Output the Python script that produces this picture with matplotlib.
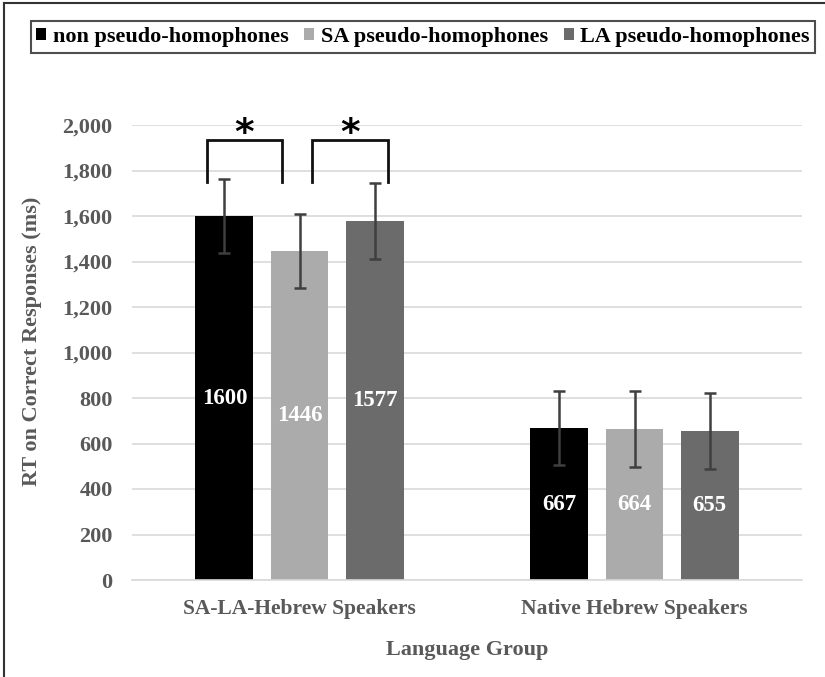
import matplotlib
matplotlib.use("Agg")
import matplotlib.pyplot as plt
import numpy as np
from matplotlib.patches import Patch
from matplotlib.lines import Line2D

groups = ["SA-LA-Hebrew Speakers", "Native Hebrew Speakers"]
series = ["non pseudo-homophones", "SA pseudo-homophones", "LA pseudo-homophones"]
non_ph = [1600, 667]
sa_ph = [1446, 664]
la_ph = [1577, 655]
non_err = [161, 163]
sa_err = [164, 167]
la_err = [166, 169]
colors = ["#000000", "#ababab", "#6b6b6b"]
yticks = [0, 200, 400, 600, 800, 1000, 1200, 1400, 1600, 1800, 2000]

plt.rcParams['font.family'] = ['Liberation Serif', 'DejaVu Serif']
plt.rcParams['font.weight'] = 'bold'

W, H = 825, 677
fig = plt.figure(figsize=(W/100, H/100), dpi=100)
ax = fig.add_axes([132/W, 1-580/H, 670/W, 455/H])

x = np.arange(len(groups))
bw = 0.173
step = 0.224
vals = [non_ph, sa_ph, la_ph]
errs = [non_err, sa_err, la_err]
for i, (v, e, c) in enumerate(zip(vals, errs, colors)):
    xs = x + (i-1)*step
    ax.bar(xs, v, width=bw, color=c, zorder=2, label=series[i])
    ax.errorbar(xs, v, yerr=e, fmt='none', ecolor='#3f3f3f', elinewidth=1.8,
                capsize=4.5, capthick=1.8, zorder=3)
    for xi, vi in zip(xs, v):
        ax.text(xi, vi/2, f"{vi}", ha='center', va='center', color='white',
                fontsize=16.5, fontweight='bold', zorder=4)

ax.set_xlim(-0.5, 1.5)
ax.set_ylim(0, 2000)
ax.set_yticks(yticks)
ax.set_yticklabels([f"{t:,}" for t in yticks])
ax.set_xticks(x)
ax.set_xticklabels(groups)
ax.tick_params(axis='both', length=0, labelsize=16, labelcolor='#595959')
ax.tick_params(axis='y', pad=14)
ax.tick_params(axis='x', pad=14, labelsize=15.5)
ax.grid(axis='y', color='#d9d9d9', linewidth=1.2, zorder=0)
ax.set_axisbelow(True)
for s in ['top', 'right', 'left']:
    ax.spines[s].set_visible(False)
ax.spines['bottom'].set_color('#d9d9d9')
ax.spines['bottom'].set_linewidth(1.2)

ax.set_ylabel("RT on Correct Responses (ms)", fontsize=16, color='#595959',
              fontweight='bold')
ax.yaxis.set_label_coords((42 - 132) / 670, (580 - 341) / 455)
ax.set_xlabel("Language Group", fontsize=16, color='#595959',
              fontweight='bold', labelpad=15)

# significance brackets
def bracket(x0, x1, ylow, yhigh):
    ax.plot([x0, x0, x1, x1], [ylow, yhigh, yhigh, ylow], color='#111111',
            lw=2, clip_on=False, zorder=5, solid_joinstyle='miter')
    ax.text((x0+x1)/2, 1962, "*", ha='center', va='center', fontsize=27,
            fontweight='bold', family='DejaVu Sans', color='black', clip_on=False)

bracket(-step-0.052, -0.052, 1749, 1934)
bracket(0.037, step+0.04, 1749, 1934)

handles = [Patch(facecolor=c, edgecolor='none') for c in colors]
leg = fig.legend(handles, series, loc='center', bbox_to_anchor=(423/W, 1-37/H),
                 ncol=3, frameon=True, fancybox=False, edgecolor='#222222',
                 handlelength=0.45, handleheight=0.45,
                 handletextpad=0.3, columnspacing=0.7, borderpad=0.25,
                 prop={'weight': 'bold', 'size': 16})
leg.get_frame().set_linewidth(1.5)

# figure border (left and top)
fig.add_artist(Line2D([3.5/W, 3.5/W], [0, 1-3/H], transform=fig.transFigure,
                      color='#333333', lw=1.5))
fig.add_artist(Line2D([3.5/W, 1], [1-3/H, 1-3/H], transform=fig.transFigure,
                      color='#333333', lw=1.5))

fig.savefig("out.png", dpi=100)
